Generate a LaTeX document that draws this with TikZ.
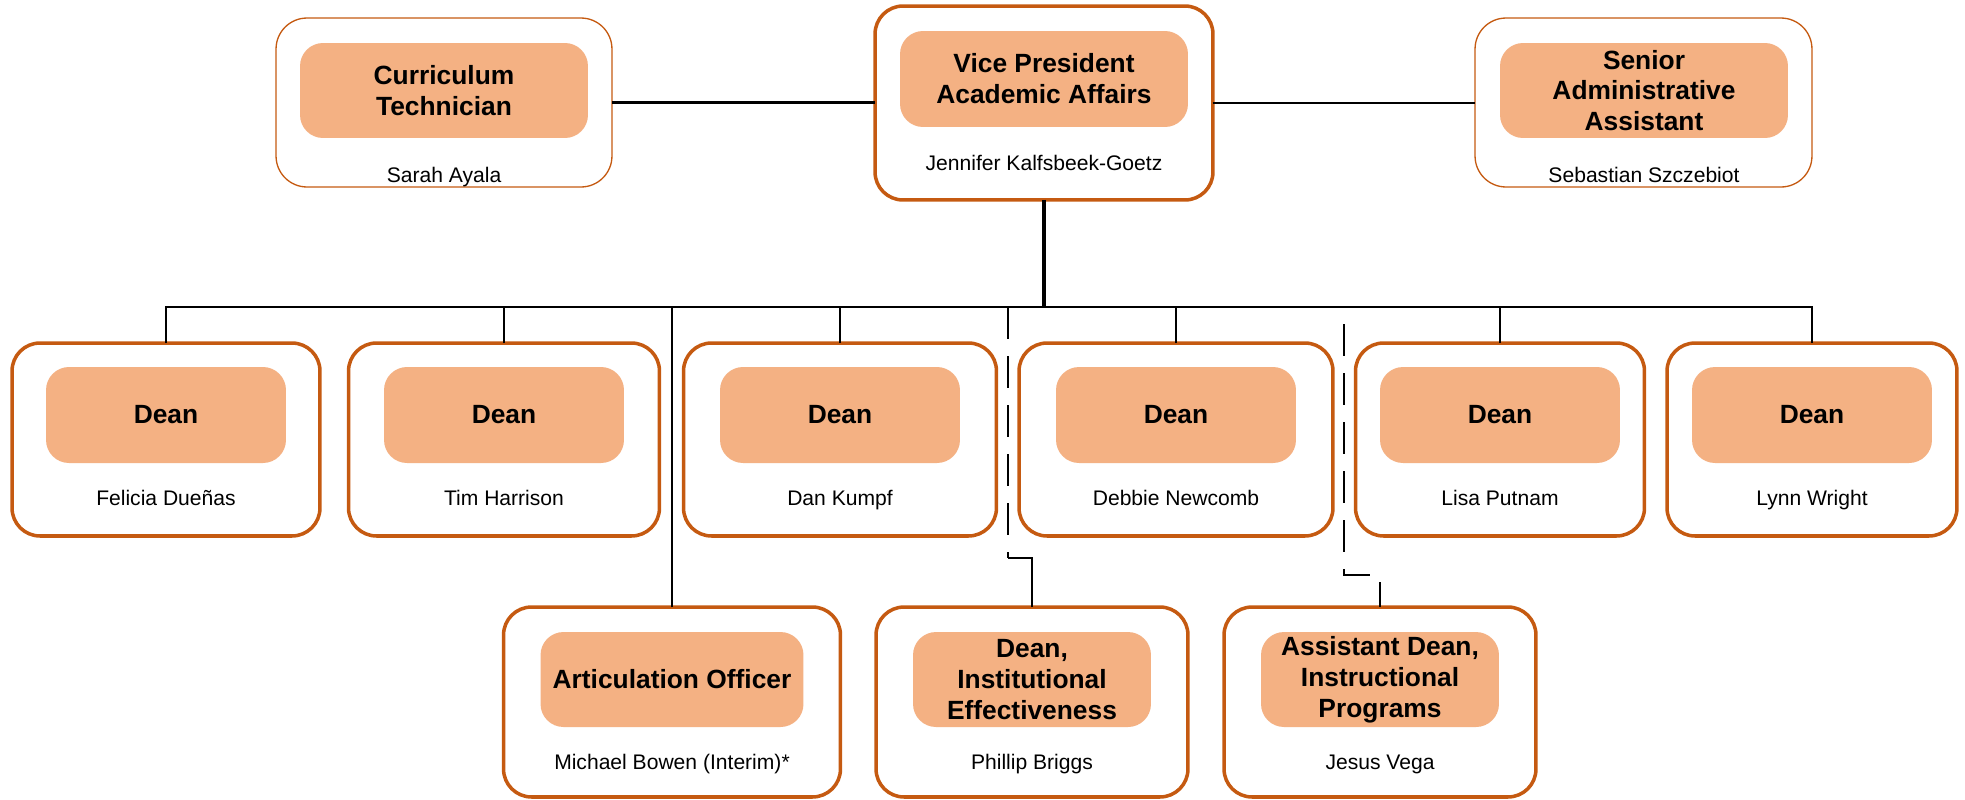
\documentclass[tikz,border=0pt]{standalone}
\usepackage{fontspec}
\setmainfont{Liberation Sans}
\definecolor{orgline}{HTML}{C55A11}
\definecolor{orgfill}{HTML}{F4B183}
\begin{document}
\begin{tikzpicture}[x=0.02cm,y=-0.02cm,
 box/.style={draw=orgline, line width=2pt, fill=white, rounded corners=0.56cm, inner sep=0pt, outer sep=0pt},
 thinbox/.style={box, line width=0.75pt, rounded corners=0.62cm},
 title/.style={fill=orgfill, rounded corners=0.46cm, inner sep=0pt, outer sep=0pt, align=center, font=\fontsize{15}{17.6}\selectfont\bfseries},
 pname/.style={inner sep=0pt, anchor=base, font=\fontsize{12}{14}\selectfont},
 conn/.style={line width=1.4pt, black},
 trunk/.style={line width=1.9pt, black},
 dashconn/.style={conn, dash pattern=on 18.2pt off 9.7pt}
]
\useasboundingbox (0,0) rectangle (1965,799);

% top row
\node[thinbox, minimum width=6.72cm, minimum height=3.38cm] (ct) at (444,102.5) {};
\node[title, minimum width=5.76cm, minimum height=1.9cm] (ctt) at (444,90.5) {Curriculum\\Technician};
\node[pname] (ctn) at (444,182) {Sarah Ayala};

\node[box, minimum width=6.76cm, minimum height=3.88cm] (vp) at (1044,103) {};
\node[title, minimum width=5.76cm, minimum height=1.92cm] (vpt) at (1044,79) {Vice President\\Academic Affairs};
\node[pname] (vpn) at (1044,170.5) {Jennifer Kalfsbeek-Goetz};

\node[thinbox, minimum width=6.74cm, minimum height=3.38cm] (sa) at (1643.5,102.5) {};
\node[title, minimum width=5.76cm, minimum height=1.9cm] (sat) at (1644,90.5) {Senior\\Administrative\\Assistant};
\node[pname] (san) at (1644,182) {Sebastian Szczebiot};

% dean row
\foreach \id/\x/\w/\who in {d1/166/6.16/Felicia Dueñas, d2/504/6.22/Tim Harrison, d3/840/6.26/Dan Kumpf, d4/1176/6.28/Debbie Newcomb, d5/1500/5.78/Lisa Putnam, d6/1812/5.80/Lynn Wright}{
  \node[box, minimum width=\w cm, minimum height=3.86cm] (\id) at (\x,439.5) {};
  \node[title, minimum width=4.8cm, minimum height=1.92cm] (\id t) at (\x,415) {Dean};
  \node[pname] (\id n) at (\x,505.5) {\who};
}

% bottom row
\node[box, minimum width=6.74cm, minimum height=3.8cm] (ao) at (672,702) {};
\node[title, minimum width=5.26cm, minimum height=1.9cm] (aot) at (672,679.5) {Articulation Officer};
\node[pname] (aon) at (672,769.5) {Michael Bowen (Interim)*};

\node[box, minimum width=6.24cm, minimum height=3.8cm] (ie) at (1032,702) {};
\node[title, minimum width=4.76cm, minimum height=1.9cm] (iet) at (1032,679.5) {Dean,\\Institutional\\Effectiveness};
\node[pname] (ien) at (1032,769.5) {Phillip Briggs};

\node[box, minimum width=6.24cm, minimum height=3.8cm] (ad) at (1380,702) {};
\node[title, minimum width=4.76cm, minimum height=1.9cm] (adt) at (1380,679.5) {Assistant Dean,\\Instructional\\Programs};
\node[pname] (adn) at (1380,769.5) {Jesus Vega};

% connectors
\coordinate (bus) at (1044,307);
\coordinate (dj1) at (1008,558);
\coordinate (dj2) at (1344,575);

\draw[conn] (ct.east) -- (ct.east -| vp.west);
\draw[conn] (vp.east) -- (vp.east -| sa.west);
\draw[trunk] (vp.south) -- (bus);
\draw[conn] (d1.north) -- (d1.north |- bus) -- (d6.north |- bus) -- (d6.north);
\foreach \id in {d2,d3,d4,d5,ao}{
  \draw[conn] (\id.north) -- (\id.north |- bus);
}
\draw[dashconn] (dj1 |- bus) -- (dj1);
\draw[conn] (dj1) -| (ie.north);
\draw[dashconn, dash phase=18.2pt] (dj2 |- bus) -- (dj2) -| (ad.north);
\end{tikzpicture}
\end{document}
